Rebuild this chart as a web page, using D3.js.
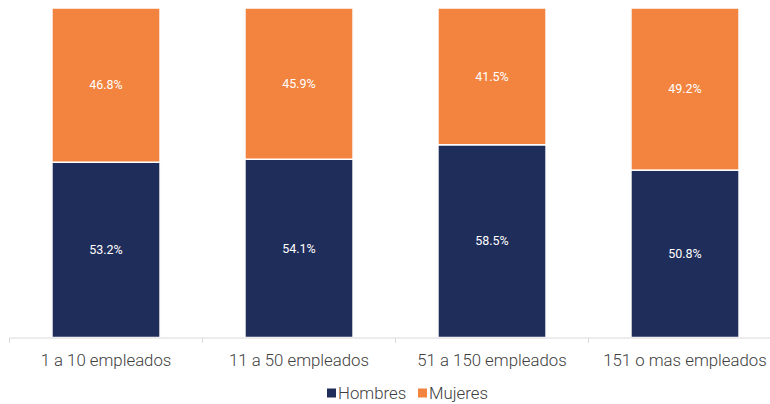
<!DOCTYPE html>
<html><head><meta charset="utf-8">
<script src="https://cdn.jsdelivr.net/npm/d3@7"></script>
<style>body{margin:0;background:#fff}svg{display:block;font-family:Roboto,sans-serif}</style>
</head><body><svg id="c" width="770" height="404"></svg>
<script>
const categories = ["1 a 10 empleados","11 a 50 empleados","51 a 150 empleados","151 o mas empleados"];
const hombres = [53.2, 54.1, 58.5, 50.8];
const mujeres = [46.8, 45.9, 41.5, 49.2];
const seriesNames = ["Hombres","Mujeres"];
const colors = ["#1F2D5A","#F2843F"];

const svg = d3.select("#c");
const x = d3.scaleBand().domain(categories).range([9.5, 781.5]).paddingInner(0.44).paddingOuter(0.22);
const y = d3.scaleLinear().domain([0,100]).range([337.5, 8]);

const rows = categories.map((c,i)=>({cat:c, Hombres:hombres[i], Mujeres:mujeres[i]}));
const stacked = d3.stack().keys(seriesNames)(rows);

const g = svg.append("g");
stacked.forEach((s,si)=>{
  g.selectAll(null).data(s).enter().append("rect")
    .attr("x", d=>x(d.data.cat)).attr("width", x.bandwidth())
    .attr("y", d=>y(d[1])).attr("height", d=>y(d[0])-y(d[1]))
    .attr("fill", colors[si]).attr("stroke","#fff").attr("stroke-width",1.5);
  g.selectAll(null).data(s).enter().append("text")
    .attr("x", d=>x(d.data.cat)+x.bandwidth()/2)
    .attr("y", d=>(y(d[0])+y(d[1]))/2)
    .attr("dy","0.35em").attr("text-anchor","middle")
    .attr("fill","#fff").attr("font-size",12.5)
    .text(d=>(d[1]-d[0]).toFixed(1)+"%");
});

// axis
const axisG = svg.append("g").attr("transform","translate(0,338)");
const step = x.step();
const edges = d3.range(categories.length+1).map(i=>x.range()[0]+i*step);
axisG.append("line").attr("x1",edges[0]).attr("x2",edges[edges.length-1]).attr("stroke","#d9d9d9").attr("stroke-width",1);
axisG.selectAll(null).data(edges).enter().append("line")
  .attr("x1",d=>d).attr("x2",d=>d).attr("y1",0).attr("y2",5).attr("stroke","#d9d9d9");
axisG.selectAll(null).data(categories).enter().append("text")
  .attr("x",d=>x(d)+x.bandwidth()/2).attr("y",22).attr("dy","0.35em")
  .attr("text-anchor","middle").attr("fill","#404040").attr("font-size",16.8).attr("font-weight",300)
  .text(d=>d);

// legend
const leg = svg.append("g").attr("transform","translate(0,393)");
const items = [{n:"Hombres",c:colors[0],x:327},{n:"Mujeres",c:colors[1],x:418}];
items.forEach(it=>{
  leg.append("rect").attr("x",it.x).attr("y",-4.5).attr("width",9).attr("height",9).attr("fill",it.c);
  leg.append("text").attr("x",it.x+11).attr("y",0).attr("dy","0.35em").attr("fill","#404040")
    .attr("font-size",16.8).attr("font-weight",300).text(it.n);
});
</script></body></html>
